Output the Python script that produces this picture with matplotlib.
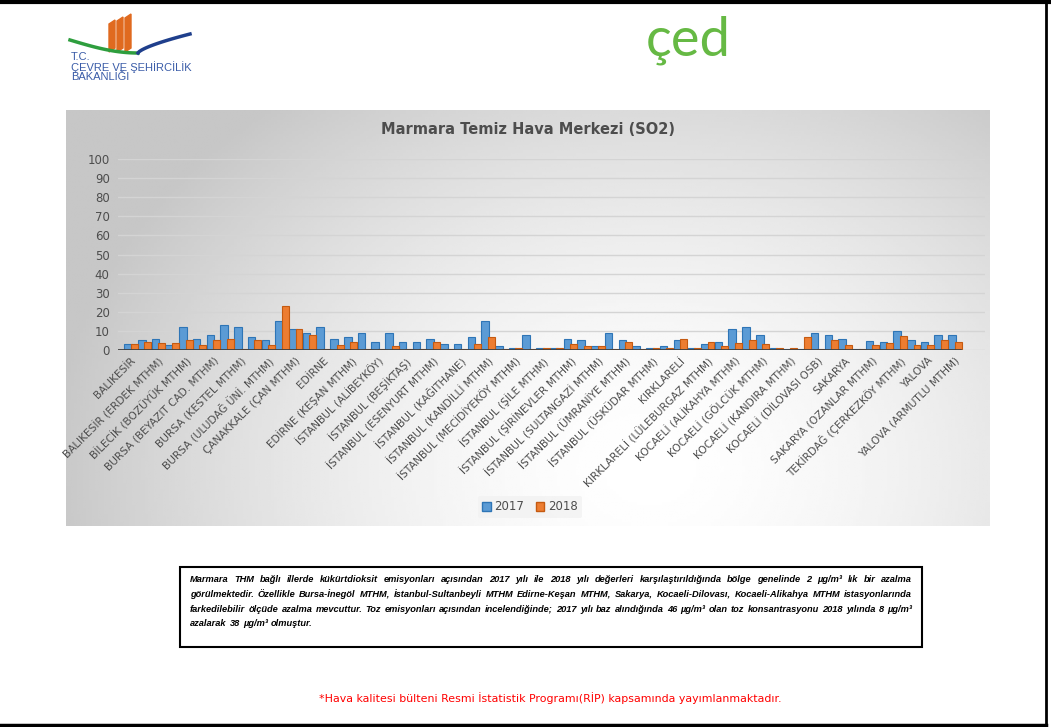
import numpy as np
import matplotlib
matplotlib.use("Agg")
import matplotlib.pyplot as plt
from matplotlib.patches import Rectangle, Polygon

# station labels (Excel only shows every second category)
labels = ['BALIKESİR', 'BALIKESİR (ERDEK MTHM)', 'BİLECİK (BOZÜYÜK MTHM)',
          'BURSA (BEYAZIT CAD. MTHM)', 'BURSA (KESTEL MTHM)', 'BURSA (ULUDAĞ ÜNİ. MTHM)',
          'ÇANAKKALE (ÇAN MTHM)', 'EDİRNE', 'EDİRNE (KEŞAN MTHM)', 'İSTANBUL (ALİBEYKÖY)',
          'İSTANBUL (BEŞİKTAŞ)', 'İSTANBUL (ESENYURT MTHM)', 'İSTANBUL (KAĞITHANE)',
          'İSTANBUL (KANDİLLİ MTHM)', 'İSTANBUL (MECİDİYEKÖY MTHM)', 'İSTANBUL (ŞİLE MTHM)',
          'İSTANBUL (ŞİRİNEVLER MTHM)', 'İSTANBUL (SULTANGAZİ MTHM)', 'İSTANBUL (ÜMRANİYE MTHM)',
          'İSTANBUL (ÜSKÜDAR MTHM)', 'KIRKLARELİ', 'KIRKLARELİ (LÜLEBURGAZ MTHM)',
          'KOCAELİ (ALİKAHYA MTHM)', 'KOCAELİ (GÖLCÜK MTHM)', 'KOCAELİ (KANDIRA MTHM)',
          'KOCAELİ (DİLOVASI OSB)', 'SAKARYA', 'SAKARYA (OZANLAR MTHM)',
          'TEKİRDAĞ (ÇERKEZKÖY MTHM)', 'YALOVA', 'YALOVA (ARMUTLU MTHM)']

so2_2017 = [3, 5, 6, 2.5, 12, 6, 8, 13, 12, 7, 5, 15, 11, 9, 12, 6, 7, 9, 4, 9,
            4, 4, 6, 3, 3, 7, 15, 2, 1, 8, 1, 1, 6, 5, 2, 9, 5, 2, 1, 2,
            5, 1, 3, 4, 11, 12, 8, 1, 0.5, 0.5, 9, 8, 6, 0.5, 4.5, 4, 10, 5, 4, 8, 8]
so2_2018 = [3, 4, 3.5, 3.5, 5, 2.5, 5, 6, 0.5, 5, 2.5, 23, 11, 8, 0.5, 2.5, 4, 0.5, 0.5, 2,
            0.5, 0.5, 4, 0.5, 0.5, 3, 7, 0.5, 1, 0.5, 1, 1, 3, 2, 2, 0.5, 4, 0.5, 1, 1,
            6, 1, 4, 2, 3.5, 5, 3, 1, 1, 7, 0.5, 5, 2.5, 0.5, 2.5, 3.5, 7.5, 2.5, 2.5, 5, 4]
years = ['2017', '2018']

W, H = 1051, 727
BLUE, BLUE_E = '#5b9bd5', '#2e75b6'
ORANGE, ORANGE_E = '#ed7d31', '#c55a11'
GREY = '#4d4d4d'


def px(x0, y0, x1, y1):
    # pixel box -> figure fraction rect
    return [x0 / W, 1 - y1 / H, (x1 - x0) / W, (y1 - y0) / H]


fig = plt.figure(figsize=(W / 100, H / 100), dpi=100)
bg = fig.add_axes([0, 0, 1, 1])
bg.set_xlim(0, W)
bg.set_ylim(H, 0)
bg.axis('off')

# page frame
bg.plot([0, W], [1.5, 1.5], color='black', lw=3)
bg.plot([1046, 1046], [0, H], color='black', lw=2)
bg.plot([0, 1046], [725, 725], color='black', lw=2.5)

# chart area gradient
gx, gy = np.meshgrid(np.linspace(66, 990, 300), np.linspace(110, 526, 150))
r = np.sqrt(((gx - 650) / 600) ** 2 + ((gy - 470) / 470) ** 2)
shade = 1 - 0.22 * np.clip(r, 0, 1) ** 1.6
bg.imshow(shade, cmap='gray', vmin=0, vmax=1, extent=(66, 990, 526, 110),
          aspect='auto', zorder=0)

# ministry logo
for i in range(3):
    x = 109 + i * 8
    bg.add_patch(Polygon([(x, 24 - i * 3), (x + 6, 20 - i * 3), (x + 6, 48), (x, 52)],
                         closed=True, color='#e06a1f', zorder=2))
t = np.linspace(0, 1, 50)
bg.plot(70 + 68 * t, 40 + 13 * np.sin(t * np.pi / 2), color='#2e9e3e', lw=2.5, zorder=3)
bg.plot(138 + 52 * t, 53 - 19 * t ** 0.7, color='#1f3f8c', lw=2.5, zorder=3)
for txt, y in [('T.C.', 57), ('ÇEVRE VE ŞEHİRCİLİK', 67.5), ('BAKANLIĞI', 77)]:
    bg.text(71, y, txt, fontsize=8, color='#3a5ca8', va='center', ha='left',
            family='Liberation Sans')

# ced logo
bg.text(688, 40, 'çed', fontsize=39, color='#66b944', ha='center', va='center',
        family='Lato')

# chart title
bg.text(528, 130, 'Marmara Temiz Hava Merkezi (SO2)', fontsize=10.5, weight='bold',
        color=GREY, ha='center', va='center')

# text box, justified by hand
bg.add_patch(Rectangle((180, 567), 742, 80, fill=False, edgecolor='black', lw=1.5))
box_lines = [
    'Marmara THM bağlı illerde kükürtdioksit emisyonları açısından 2017 yılı ile 2018 yılı değerleri karşılaştırıldığında bölge genelinde 2 µg/m³   lık bir azalma',
    'görülmektedir. Özellikle Bursa-İnegöl MTHM, İstanbul-Sultanbeyli MTHM Edirne-Keşan MTHM, Sakarya, Kocaeli-Dilovası, Kocaeli-Alikahya MTHM istasyonlarında',
    'farkedilebilir ölçüde azalma mevcuttur. Toz emisyonları açısından incelendiğinde; 2017 yılı baz alındığında 46 µg/m³  olan toz konsantrasyonu 2018 yılında 8 µg/m³',
    'azalarak 38 µg/m³ olmuştur.',
]
renderer = fig.canvas.get_renderer()
font = dict(style='italic', weight='bold', family='Liberation Sans')
fs = 7.0
for line in box_lines[:-1]:
    probe = bg.text(0, 0, line, fontsize=7.0, **font)
    wd = probe.get_window_extent(renderer).width
    probe.remove()
    fs = min(fs, 7.0 * 718 / wd)

for k, line in enumerate(box_lines):
    y = 580 + k * 14.5
    words = line.split()
    objs = [bg.text(0, y, w_, fontsize=fs, ha='left', va='center', **font) for w_ in words]
    widths = [o.get_window_extent(renderer).width for o in objs]
    if k < len(box_lines) - 1:
        gap = (912 - 190 - sum(widths)) / (len(words) - 1)
    else:
        gap = 3.0
    x = 190
    for o, wd in zip(objs, widths):
        o.set_x(x)
        x += wd + gap

bg.text(550, 698, '*Hava kalitesi bülteni Resmi İstatistik Programı(RİP) kapsamında yayımlanmaktadır.',
        fontsize=7.9, color='#ff0000', ha='center', va='center')

# bar chart
ax = fig.add_axes(px(118, 159, 985, 350))
ax.set_facecolor('none')
n = len(so2_2017)
idx = np.arange(n)
step = (952 - 128) / (n - 1)
ax.set_xlim(-(128 - 118) / step, n - 1 + (985 - 952) / step)
ax.set_ylim(0, 100)

ax.bar(idx, so2_2017, width=0.55, color=BLUE, edgecolor=BLUE_E, lw=0.8, zorder=3)
ax.bar(idx + 0.45, so2_2018, width=0.5, color=ORANGE, edgecolor=ORANGE_E, lw=0.8, zorder=4)

ax.set_yticks(range(0, 101, 10))
ax.tick_params(axis='y', length=0, labelsize=8.5, labelcolor=GREY, pad=6)
ax.grid(axis='y', color='#d4d4d4', lw=1, zorder=0)
for s in ax.spines.values():
    s.set_visible(False)
ax.axhline(0, xmin=0, xmax=(960 - 118) / (985 - 118), color='#404040', lw=2, zorder=5)

ax.set_xticks(idx[::2] + 0.2)
ax.set_xticklabels(labels, rotation=45, ha='right', rotation_mode='anchor',
                   fontsize=7.6, color=GREY)
ax.tick_params(axis='x', length=0, pad=4)

handles = [Rectangle((0, 0), 1, 1, facecolor=BLUE, edgecolor=BLUE_E),
           Rectangle((0, 0), 1, 1, facecolor=ORANGE, edgecolor=ORANGE_E)]
leg = fig.legend(handles, years, loc='center', bbox_to_anchor=(530 / W, 1 - 507 / H),
                 ncol=2, frameon=True, fontsize=8.5, handlelength=0.7, handleheight=0.7,
                 handletextpad=0.3, columnspacing=1.0, borderpad=0.4)
leg.get_frame().set_facecolor('#f2f2f2')
leg.get_frame().set_edgecolor('none')
for t_ in leg.get_texts():
    t_.set_color(GREY)

fig.savefig('out.png', dpi=100)
